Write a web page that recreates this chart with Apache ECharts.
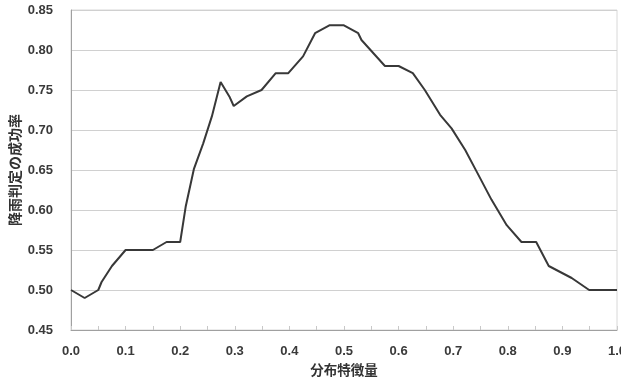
<!DOCTYPE html>
<html>
<head>
<meta charset="utf-8">
<script src="https://cdn.jsdelivr.net/npm/echarts@6/dist/echarts.min.js"></script>
<style>
  html, body { margin: 0; padding: 0; background: #fff; }
  #chart { width: 621px; height: 378px; }
</style>
</head>
<body>
<div id="chart"></div>
<script>
// 分布特徴量 (x) と 降雨判定の成功率 (y)
var featureX = [0, 0.025, 0.05, 0.056, 0.075, 0.1, 0.15, 0.175, 0.2, 0.21,
  0.225, 0.242, 0.258, 0.274, 0.29, 0.298, 0.322, 0.349, 0.375, 0.398,
  0.425, 0.447, 0.474, 0.499, 0.526, 0.532, 0.575, 0.6, 0.626, 0.648,
  0.676, 0.697, 0.722, 0.743, 0.77, 0.798, 0.825, 0.852, 0.875, 0.917,
  0.949, 1.0];
var successRate = [0.50, 0.49, 0.50, 0.51, 0.53, 0.55, 0.55, 0.56, 0.56, 0.604,
  0.651, 0.683, 0.717, 0.76, 0.742, 0.73, 0.742, 0.75, 0.771, 0.771,
  0.792, 0.821, 0.831, 0.831, 0.821, 0.8125, 0.78, 0.78, 0.771, 0.75,
  0.719, 0.702, 0.675, 0.648, 0.613, 0.581, 0.56, 0.56, 0.53, 0.515,
  0.50, 0.50];

var xName = "分布特徴量";
var yName = "降雨判定の成功率";

var chart = echarts.init(document.getElementById("chart"));

var points = [];
for (var i = 0; i < featureX.length; i++) {
  points.push([featureX[i], successRate[i]]);
}

var labelFont = {
  fontFamily: "Liberation Sans",
  fontWeight: "bold",
  fontSize: 13,
  color: "#3a3a3a",
};

chart.setOption({
  animation: false,
  grid: {
    left: 71,
    right: 4,
    top: 10,
    bottom: 48,
    containLabel: false,
    outerBoundsMode: "none",
    show: true,
    borderColor: "#d8d8d8",
    borderWidth: 1,
  },
  xAxis: {
    type: "value",
    min: 0,
    max: 1,
    interval: 0.05,
    name: xName,
    nameLocation: "middle",
    nameGap: 33,
    nameMoveOverlap: false,
    nameTextStyle: {
      fontFamily: "Noto Sans CJK JP",
      fontWeight: "bold",
      fontSize: 13.5,
      color: "#333",
    },
    axisLine: { lineStyle: { color: "#a0a0a0", width: 1 } },
    axisTick: { show: true, inside: true, length: 4, lineStyle: { color: "#c8c8c8" } },
    splitLine: { show: false },
    axisLabel: Object.assign({
      margin: 15,
      showMaxLabel: true,
      hideOverlap: false,
      formatter: function (v) {
        return Math.round(v * 100) % 10 === 0 ? v.toFixed(1) : "";
      },
    }, labelFont),
  },
  yAxis: {
    type: "value",
    min: 0.45,
    max: 0.85,
    interval: 0.05,
    name: yName,
    nameLocation: "middle",
    nameGap: 49,
    nameMoveOverlap: false,
    nameRotate: 90,
    nameTextStyle: {
      fontFamily: "Noto Sans CJK JP",
      fontWeight: "bold",
      fontSize: 14,
      color: "#333",
    },
    axisLine: { show: true, lineStyle: { color: "#a0a0a0", width: 1 } },
    axisTick: { show: false },
    splitLine: { lineStyle: { color: "#d0d0d0", width: 1 } },
    axisLabel: Object.assign({
      margin: 18,
      formatter: function (v) {
        return v.toFixed(2);
      },
    }, labelFont),
  },
  series: [
    {
      type: "line",
      data: points,
      showSymbol: false,
      lineStyle: { color: "#383838", width: 2 },
    },
  ],
});
</script>
</body>
</html>
